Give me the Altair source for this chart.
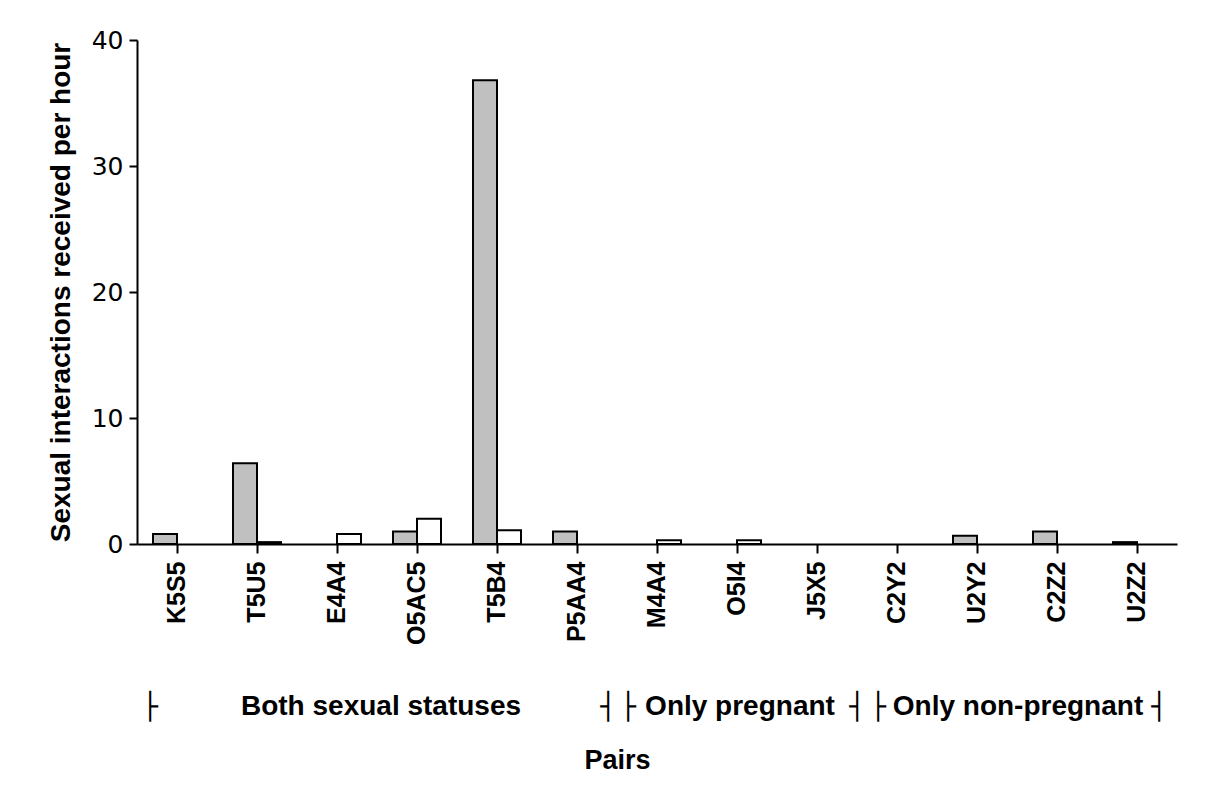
import altair as alt
import pandas as pd

pairs = ["K5S5", "T5U5", "E4A4", "O5AC5", "T5B4", "P5AA4", "M4A4",
         "O5I4", "J5X5", "C2Y2", "U2Y2", "C2Z2", "U2Z2"]
statuses = ["Non-pregnant", "Pregnant"]
non_pregnant = [0.8, 6.4, 0.0, 1.0, 36.8, 1.0, 0.0, 0.0, 0.0, 0.0, 0.65, 1.0, 0.15]
pregnant = [0.0, 0.15, 0.8, 2.0, 1.1, 0.0, 0.3, 0.3, 0.0, 0.0, 0.0, 0.0, 0.0]

group_names = ["Both sexual statuses", "Only pregnant", "Only non-pregnant"]
group_anchor = ["O5AC5", "O5I4", "U2Y2"]
group_dx = [-36, 3, 41]
bracket_anchor = ["K5S5", "P5AA4", "M4A4", "J5X5", "C2Y2", "U2Z2"]
bracket_char = ["├", "┤", "├", "┤", "├", "┤"]
bracket_dx = [-27, 31, -29, 40, -19, 22]

rows = []
for i, p in enumerate(pairs):
    rows.append({"pair": p, "status": statuses[0], "value": non_pregnant[i]})
    rows.append({"pair": p, "status": statuses[1], "value": pregnant[i]})
df = pd.DataFrame(rows)

W, H = 1040, 504
BOLD = "Liberation Sans, Arial, sans-serif"

xscale = alt.Scale(domain=pairs, paddingInner=0.4, paddingOuter=0.2)

bars = alt.Chart(df).transform_filter("datum.value > 0").mark_bar(
    stroke="black", strokeWidth=2).encode(
    x=alt.X("pair:N", scale=xscale,
            axis=alt.Axis(title="Pairs", labelAngle=270, labelFont=BOLD,
                          labelFontWeight="bold", labelFontSize=25,
                          labelColor="black", labelPadding=8, tickSize=9,
                          tickColor="black", tickWidth=2, domainColor="black",
                          domainWidth=2, titleFont=BOLD, titleFontSize=27,
                          titleFontWeight="bold", titleColor="black",
                          titleX=480, titleY=216, titleBaseline="middle")),
    xOffset=alt.XOffset("status:N", sort=statuses,
                        scale=alt.Scale(domain=statuses, paddingInner=0, paddingOuter=0)),
    y=alt.Y("value:Q", scale=alt.Scale(domain=[0, 40], nice=False),
            axis=alt.Axis(title="Sexual interactions received per hour",
                          values=[0, 10, 20, 30, 40], grid=False,
                          labelFont="DejaVu Sans", labelFontSize=25,
                          labelColor="black", labelPadding=6, tickSize=8,
                          tickColor="black", tickWidth=2, domainColor="black",
                          domainWidth=2, titleFont=BOLD, titleFontSize=28,
                          titleFontWeight="bold", titleColor="black",
                          titlePadding=16)),
    fill=alt.Fill("status:N", scale=alt.Scale(domain=statuses, range=["#c0c0c0", "#ffffff"]),
                  legend=None),
)

layers = [bars]
for name, anc, dx in zip(group_names, group_anchor, group_dx):
    layers.append(
        alt.Chart(pd.DataFrame({"t": [name]})).mark_text(
            font=BOLD, fontSize=28, fontWeight="bold", color="black",
            align="center", baseline="middle", dx=dx
        ).encode(x=alt.datum(anc), y=alt.value(H + 163), text="t:N")
    )
for ch, anc, dx in zip(bracket_char, bracket_anchor, bracket_dx):
    layers.append(
        alt.Chart(pd.DataFrame({"t": [ch]})).mark_text(
            font="DejaVu Sans", fontSize=26, color="black",
            align="center", baseline="middle", dx=dx
        ).encode(x=alt.datum(anc), y=alt.value(H + 163), text="t:N")
    )

chart = alt.layer(*layers).properties(
    width=W, height=H,
    autosize=alt.AutoSizeParams(type="none"),
    padding={"left": 129, "top": 32, "right": 30, "bottom": 250},
    background="white",
).configure_view(stroke=None)

chart.save("out.html", embed_options={"renderer": "svg", "actions": False})
